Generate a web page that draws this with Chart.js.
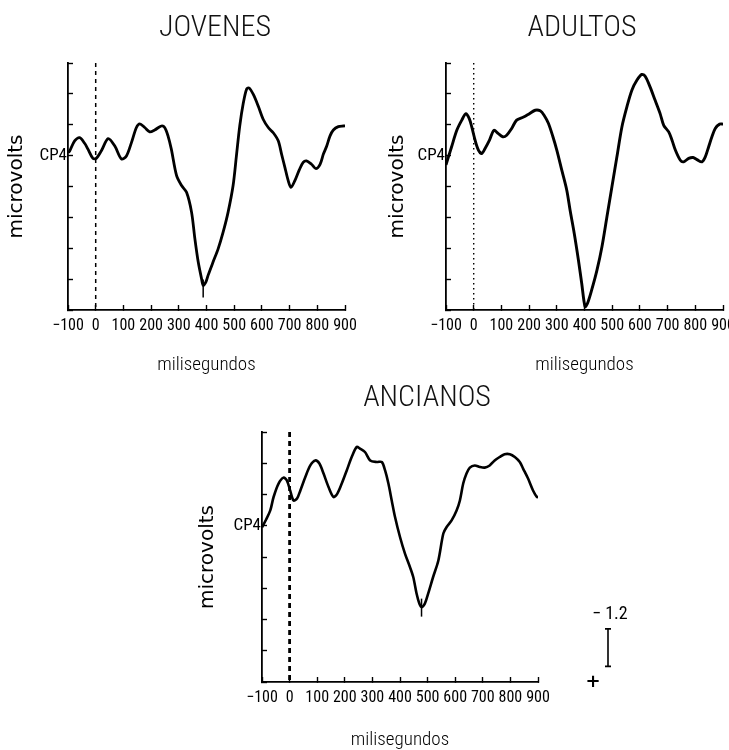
<!DOCTYPE html>
<html>
<head>
<meta charset="utf-8">
<script src="https://cdn.jsdelivr.net/npm/chart.js@4"></script>
<style>
html, body { margin:0; padding:0; background:#fff; overflow:hidden; width:729px; height:750px; }
canvas { position:absolute; }
.ttl { position:absolute; font-family:"Roboto Condensed","DejaVu Sans Condensed",sans-serif; font-weight:300; font-size:30px; color:#111; transform:translate(-50%,-50%); white-space:nowrap; }
</style>
</head>
<body>
<canvas id="c1" width="365" height="385" style="left:0px;top:0px"></canvas>
<canvas id="c2" width="365" height="385" style="left:370px;top:0px"></canvas>
<canvas id="c3" width="460" height="362" style="left:180px;top:400px"></canvas>
<div class="ttl" id="t1" style="left:215px;top:25px"></div>
<div class="ttl" id="t2" style="left:582px;top:25px"></div>
<div class="ttl" id="t3" style="left:427px;top:395px"></div>
<script>
// ---- data (time in ms, amplitude in microvolts; negative plotted upward) ----
const xTicks = [-100, 0, 100, 200, 300, 400, 500, 600, 700, 800, 900];
const yRange = [-3, 5];           // microvolt axis range (reversed: negative up)
const yLabelAt = 0;               // baseline marked "CP4"
const channelLabel = 'CP4';
const xTitle = 'milisegundos';
const yTitle = 'microvolts';
const groupTitles = ['JOVENES', 'ADULTOS', 'ANCIANOS'];

const jovenesMs = [-100,-94,-76,-58,-40,-28,-10,2,20,45,69,93,111,129,147,159,177,195,213,237,249,261,273,292,310,328,346,358,370,382,388,398,406,424,442,460,478,496,508,520,533,545,554,569,587,605,623,641,659,671,683,695,705,719,735,749,761,779,795,810,822,834,846,858,876,894,900];
const jovenesUv = [-0.1,-0.15,-0.48,-0.58,-0.40,-0.21,0.09,0.09,-0.15,-0.55,-0.31,0.11,0.01,-0.42,-0.91,-1.03,-0.91,-0.77,-0.83,-0.96,-0.91,-0.64,-0.21,0.65,0.97,1.19,1.83,2.69,3.44,3.98,4.20,4.09,3.87,3.44,3.02,2.48,1.83,0.97,0.01,-0.96,-1.71,-2.16,-2.19,-1.98,-1.60,-1.17,-0.91,-0.74,-0.48,-0.05,0.38,0.81,1.03,0.81,0.46,0.22,0.17,0.28,0.42,0.28,-0.05,-0.31,-0.64,-0.83,-0.94,-0.96,-0.96];
const jovenesPeak = [388, 4.3];

const adultosMs = [-100,-80,-61,-43,-28,-16,-7,5,17,29,41,57,73,89,105,119,137,155,180,201,222,240,254,270,286,300,318,336,348,363,378,390,402,411,426,445,463,481,499,517,535,553,571,589,607,619,637,655,673,686,704,716,728,746,758,776,792,806,824,836,848,860,872,888,900];
const adultosUv = [0.3,-0.28,-0.82,-1.15,-1.36,-1.20,-0.93,-0.50,-0.18,-0.07,-0.23,-0.50,-0.82,-0.71,-0.61,-0.66,-0.88,-1.15,-1.25,-1.36,-1.47,-1.45,-1.31,-1.04,-0.61,-0.18,0.47,1.12,1.77,2.52,3.38,4.14,4.89,4.78,4.35,3.71,2.95,1.98,1.01,0.04,-0.93,-1.58,-2.12,-2.44,-2.63,-2.57,-2.22,-1.79,-1.36,-0.98,-0.77,-0.50,-0.18,0.15,0.20,0.09,0.06,0.13,0.20,0.04,-0.28,-0.61,-0.88,-1.02,-1.02];

const ancianosMs = [-100,-85,-70,-58,-40,-22,-10,2,14,27,39,57,75,93,108,123,141,159,173,189,207,225,243,255,273,292,316,334,346,358,370,382,400,418,436,448,460,470,478,490,502,520,539,557,569,587,605,617,629,641,653,671,689,707,725,743,761,779,798,816,834,846,864,882,896,900];
const ancianosUv = [0.05,-0.2,-0.49,-0.92,-1.35,-1.54,-1.45,-1.13,-0.81,-0.87,-1.13,-1.56,-1.93,-2.09,-1.99,-1.67,-1.24,-0.92,-1.03,-1.35,-1.77,-2.20,-2.52,-2.47,-2.36,-2.09,-2.04,-2.04,-1.77,-1.35,-0.81,-0.28,0.36,0.89,1.32,1.64,2.17,2.49,2.60,2.49,2.17,1.64,1.11,0.25,0.04,-0.17,-0.49,-0.81,-1.35,-1.67,-1.86,-1.93,-1.88,-1.86,-1.93,-2.09,-2.20,-2.29,-2.29,-2.20,-2.04,-1.83,-1.51,-1.13,-0.92,-0.92];
const ancianosPeak = [478, 2.62];

const calibStartUv = 3.3;   // calibration bar start
const calibUv = 1.2;        // calibration bar length (µV)
const calibLabel = '\u2212 1.2';

// ---- chart construction ----
const NARROW = '"Roboto Condensed","DejaVu Sans Condensed",sans-serif';
const SANS = '"DejaVu Sans",sans-serif';

['t1', 't2', 't3'].forEach((id, i) => { document.getElementById(id).textContent = groupTitles[i]; });

const calibPlugin = {
  id: 'calib',
  afterDraw(chart) {
    if (!chart.options.plugins.calib || !chart.options.plugins.calib.show) return;
    const ctx = chart.ctx, y = chart.scales.y;
    const x = chart.chartArea.right + 70;
    const y0 = y.getPixelForValue(calibStartUv);
    const y1 = y.getPixelForValue(calibStartUv + calibUv);
    ctx.save();
    ctx.strokeStyle = '#000';
    ctx.lineWidth = 1.6;
    ctx.beginPath();
    ctx.moveTo(x, y0); ctx.lineTo(x, y1);
    ctx.moveTo(x - 3, y0); ctx.lineTo(x + 3, y0);
    ctx.moveTo(x - 3, y1); ctx.lineTo(x + 3, y1);
    ctx.stroke();
    ctx.fillStyle = '#000';
    ctx.font = '18px ' + NARROW;
    ctx.textAlign = 'left';
    ctx.textBaseline = 'middle';
    ctx.fillText(calibLabel, x - 16, y0 - 14);
    ctx.font = 'bold 18px ' + SANS;
    ctx.textAlign = 'center';
    ctx.fillText('+', x - 15, y1 + 16);
    ctx.restore();
  }
};

function makeChart(id, ms, uv, peak, o) {
  const wave = ms.map((x, i) => ({ x: x, y: uv[i] }));
  const datasets = [
    { data: wave, borderColor: '#000', borderWidth: o.lw, pointRadius: 0, tension: 0.3, fill: false },
    { data: [{ x: 0, y: yRange[0] }, { x: 0, y: yRange[1] }], borderColor: '#000',
      borderWidth: o.dashWidth, borderDash: o.dash, pointRadius: 0, tension: 0 }
  ];
  if (peak) {
    datasets.push({ data: [{ x: peak[0], y: peak[1] }], showLine: false, pointStyle: 'line',
      rotation: 90, pointRadius: 9, borderColor: '#000', pointBorderWidth: 1.5, borderWidth: 1.5 });
  }
  return new Chart(document.getElementById(id), {
    type: 'line',
    data: { datasets: datasets },
    plugins: [calibPlugin],
    options: {
      responsive: false,
      animation: false,
      events: [],
      layout: { padding: { top: o.top, right: o.right, left: 0, bottom: 0 } },
      plugins: { legend: { display: false }, tooltip: { enabled: false }, calib: { show: !!o.calib } },
      scales: {
        x: {
          type: 'linear', min: xTicks[0], max: xTicks[xTicks.length - 1],
          afterBuildTicks: s => { s.ticks = xTicks.map(v => ({ value: v })); },
          ticks: { autoSkip: false, maxRotation: 0, padding: 11, color: '#000',
                   font: { family: NARROW, size: 16 },
                   callback: v => (v < 0 ? '\u2212' + Math.abs(v) : String(v)) },
          grid: { drawOnChartArea: false, tickLength: -5, color: '#000', tickWidth: 1.4 },
          border: { color: '#000', width: 1.8 },
          title: { display: true, text: xTitle, color: '#000', font: { family: NARROW, size: 19, weight: '300' },
                   padding: { top: 0, bottom: o.xTitlePad } },
          afterFit: s => { s.height = o.xH; s.paddingLeft = 0; s.paddingRight = 0; }
        },
        y: {
          type: 'linear', reverse: true, min: yRange[0], max: yRange[1],
          ticks: { stepSize: 1, padding: 6, color: '#000', font: { family: NARROW, size: 17 },
                   callback: v => (v === yLabelAt ? channelLabel : '') },
          grid: { drawOnChartArea: false, tickLength: -5, color: '#000', tickWidth: 1.4 },
          border: { color: '#000', width: 1.8 },
          title: { display: true, text: yTitle, color: '#000', font: { family: SANS, size: 20 },
                   padding: { top: o.yTitlePad, bottom: 0 } },
          afterFit: s => { s.width = o.yW; s.paddingTop = 0; s.paddingBottom = 0; }
        }
      }
    }
  });
}

makeChart('c1', jovenesMs, jovenesUv, jovenesPeak,
  { top: 63, right: 20, yW: 68, xH: 75, xTitlePad: 8, yTitlePad: 5, lw: 2.8, dash: [4, 4], dashWidth: 1.5 });
makeChart('c2', adultosMs, adultosUv, null,
  { top: 63, right: 12, yW: 76, xH: 75, xTitlePad: 8, yTitlePad: 16, lw: 2.9, dash: [1.5, 3.5], dashWidth: 1.4 });
makeChart('c3', ancianosMs, ancianosUv, ancianosPeak,
  { top: 32, right: 102, yW: 82, xH: 80, xTitlePad: 10, yTitlePad: 16, lw: 2.6, dash: [5, 4], dashWidth: 2.8, calib: true });
</script>
</body>
</html>
